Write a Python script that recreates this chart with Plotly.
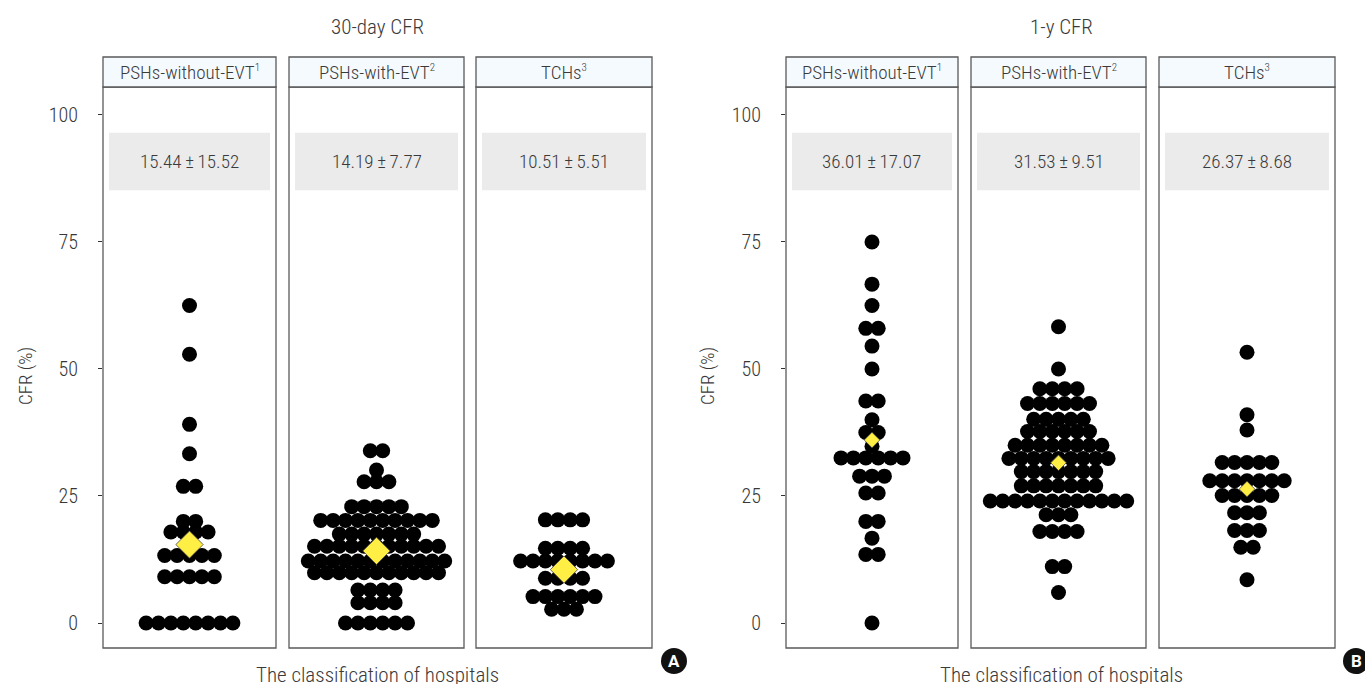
import plotly.graph_objects as go
import numpy as np

# ---------------- data ----------------
groups = ["PSHs-without-EVT<sup><span style='font-size:11px'>1</span></sup>",
          "PSHs-with-EVT<sup><span style='font-size:11px'>2</span></sup>",
          "TCHs<sup><span style='font-size:11px'>3</span></sup>"]
chart_titles = ["30-day CFR", "1-y CFR"]
panel_letters = ["A", "B"]

cfr30_without = [62.5, 52.9, 39.1, 33.3, 26.9, 26.9, 20.0, 20.0, 17.9, 17.9, 17.9, 17.9,
                 13.3, 13.3, 13.3, 13.3, 13.3, 9.1, 9.1, 9.1, 9.1, 9.1,
                 0, 0, 0, 0, 0, 0, 0, 0]
cfr30_with = [33.9, 33.9, 30.1, 27.8, 27.8, 27.8,
              22.9, 22.9, 22.9, 22.9, 22.9,
              20.2, 20.2, 20.2, 20.2, 20.2, 20.2, 20.2, 20.2, 20.2, 20.2,
              17.5, 17.5, 17.5, 17.5, 17.5, 17.5, 17.5,
              15.1, 15.1, 15.1, 15.1, 15.1, 15.1, 15.1, 15.1, 15.1, 15.1, 15.1,
              12.2, 12.2, 12.2, 12.2, 12.2, 12.2, 12.2, 12.2, 12.2, 12.2, 12.2, 12.2,
              9.9, 9.9, 9.9, 9.9, 9.9, 9.9, 9.9, 9.9, 9.9, 9.9, 9.9,
              6.5, 6.5, 6.5, 6.5, 4.0, 4.0, 4.0, 4.0,
              0, 0, 0, 0, 0, 0]
cfr30_tch = [20.3, 20.3, 20.3, 20.3, 14.7, 14.7, 14.7, 14.7,
             12.2, 12.2, 12.2, 12.2, 12.2, 12.2, 12.2, 12.2,
             8.8, 8.8, 8.8, 8.8, 5.2, 5.2, 5.2, 5.2, 5.2, 5.2, 2.7, 2.7, 2.7]

cfr1y_without = [75.0, 66.7, 62.5, 58.0, 58.0, 54.5, 50.0, 43.7, 43.7, 40.0, 37.5, 37.5, 34.8,
                 32.5, 32.5, 32.5, 32.5, 32.5, 32.5, 28.9, 28.9, 28.9, 25.6, 25.6,
                 20.0, 20.0, 16.7, 13.5, 13.5, 0]
cfr1y_with = [58.3, 50.0, 46.1, 46.1, 46.1, 46.1,
              43.2, 43.2, 43.2, 43.2, 43.2, 43.2,
              40.1, 40.1, 40.1, 40.1, 40.1,
              37.7, 37.7, 37.7, 37.7, 37.7, 37.7,
              35.0, 35.0, 35.0, 35.0, 35.0, 35.0, 35.0, 35.0,
              32.4, 32.4, 32.4, 32.4, 32.4, 32.4, 32.4, 32.4, 32.4,
              29.8, 29.8, 29.8, 29.8, 29.8, 29.8, 29.8,
              27.0, 27.0, 27.0, 27.0, 27.0, 27.0, 27.0,
              24.0, 24.0, 24.0, 24.0, 24.0, 24.0, 24.0, 24.0, 24.0, 24.0, 24.0, 24.0,
              21.3, 21.3, 21.3, 18.0, 18.0, 18.0, 18.0, 11.1, 11.1, 6.0]
cfr1y_tch = [53.3, 41.0, 38.0, 31.6, 31.6, 31.6, 31.6, 31.6,
             28.0, 28.0, 28.0, 28.0, 28.0, 28.0, 28.0,
             25.1, 25.1, 25.1, 25.1, 25.1, 21.7, 21.7, 21.7,
             18.2, 18.2, 18.2, 14.9, 14.9, 8.5]

means = [15.44, 14.19, 10.51, 36.01, 31.53, 26.37]
sds = [15.52, 7.77, 5.51, 17.07, 9.51, 8.68]
y_ticks = [0, 25, 50, 75, 100]

panel_values = [cfr30_without, cfr30_with, cfr30_tch, cfr1y_without, cfr1y_with, cfr1y_tch]

# ---------------- layout geometry (pixels) ----------------
W, H = 1365, 684
panels_px = [(103, 276), (289, 464), (476, 652), (786, 958), (971, 1146), (1159, 1335)]
strip_top, panel_top, panel_bot = 57, 87, 648
chart_centers = [377, 1061]
FONT = "Roboto Condensed, Liberation Sans Narrow, Roboto, sans-serif"
TXT = "#3a3a3a"
BORDER = "#5a5a5a"
DOT_SPACING_PX = 12.4

def fx(p):
    return p / W

def fy(p):
    return 1 - p / H

def font(size, color=TXT):
    return dict(family=FONT, size=size, color=color, weight=300)

fig = go.Figure()
shapes = []
annotations = []
layout_axes = {}

for i, vals in enumerate(panel_values):
    k = i + 1
    xa = "x" if k == 1 else f"x{k}"
    ya = "y" if k == 1 else f"y{k}"
    x0p, x1p = panels_px[i]
    wpx = x1p - x0p
    spacing = DOT_SPACING_PX * 2.0 / wpx

    # centred dot-plot offsets
    vals = np.asarray(vals, dtype=float)
    xs = np.zeros_like(vals)
    for u in np.unique(vals):
        idx = np.where(vals == u)[0]
        n = len(idx)
        xs[idx] = (np.arange(n) - (n - 1) / 2.0) * spacing

    fig.add_trace(go.Scatter(x=xs, y=vals, mode="markers", xaxis=xa, yaxis=ya,
                             marker=dict(size=15, color="black", line=dict(width=0)),
                             hoverinfo="y", showlegend=False))
    dsize = 21 if i < 3 else 12
    fig.add_trace(go.Scatter(x=[0], y=[means[i]], mode="markers", xaxis=xa, yaxis=ya,
                             marker=dict(symbol="diamond", size=dsize, color="#FFEE44",
                                         line=dict(width=0.8, color="#444444")),
                             hoverinfo="y", showlegend=False))

    layout_axes["xaxis" if k == 1 else f"xaxis{k}"] = dict(
        domain=[fx(x0p), fx(x1p)], range=[-1, 1], anchor=ya,
        showgrid=False, zeroline=False, showticklabels=False, ticks="", showline=False)
    first = i in (0, 3)
    layout_axes["yaxis" if k == 1 else f"yaxis{k}"] = dict(
        domain=[fy(panel_bot), fy(panel_top)], range=[-4.92, 105.5], anchor=xa,
        showgrid=False, zeroline=False, showline=False,
        tickvals=y_ticks if first else [], showticklabels=first,
        ticks="outside" if first else "", ticklen=4, tickwidth=1, tickcolor="#333333",
        ticklabelstandoff=16,
        tickfont=font(20, "#383838"))

    # grey summary box
    shapes.append(dict(type="rect", xref=f"{xa} domain", yref=ya,
                       x0=6 / wpx, x1=1 - 6 / wpx, y0=85.2, y1=96.5,
                       fillcolor="#EBEBEB", line=dict(width=0), layer="below"))
    annotations.append(dict(xref=f"{xa} domain", yref=ya, x=0.5, y=90.8,
                            xanchor="center", yanchor="middle",
                            text=f"{means[i]:.2f}\u2009\u00b1\u2009{sds[i]:.2f}", showarrow=False,
                            font=font(19)))
    # panel border
    shapes.append(dict(type="rect", xref="paper", yref="paper",
                       x0=fx(x0p), x1=fx(x1p), y0=fy(panel_bot), y1=fy(panel_top),
                       line=dict(color=BORDER, width=1.3), layer="above"))
    # strip
    shapes.append(dict(type="rect", xref="paper", yref="paper",
                       x0=fx(x0p), x1=fx(x1p), y0=fy(panel_top), y1=fy(strip_top),
                       fillcolor="#F5FAFF", line=dict(color=BORDER, width=1.3)))
    annotations.append(dict(xref="paper", yref="paper", x=fx((x0p + x1p) / 2),
                            y=fy((strip_top + panel_top) / 2), text=groups[i % 3],
                            showarrow=False, xanchor="center", yanchor="middle",
                            font=font(19)))

for c in range(2):
    cx = chart_centers[c]
    annotations.append(dict(xref="paper", yref="paper", x=fx(cx), y=fy(27),
                            text=chart_titles[c], showarrow=False,
                            xanchor="center", yanchor="middle", font=font(21)))
    annotations.append(dict(xref="paper", yref="paper", x=fx(cx), y=fy(675),
                            text="The classification of hospitals", showarrow=False,
                            xanchor="center", yanchor="middle", font=font(21)))
    ax_x = 25 if c == 0 else 707
    annotations.append(dict(xref="paper", yref="paper", x=fx(ax_x), y=fy(376),
                            text="CFR (%)", showarrow=False, textangle=-90,
                            xanchor="center", yanchor="middle", font=font(19)))
    bx = 674 if c == 0 else 1356
    shapes.append(dict(type="circle", xref="paper", yref="paper",
                       x0=fx(bx - 13), x1=fx(bx + 13), y0=fy(661 + 13), y1=fy(661 - 13),
                       fillcolor="#111111", line=dict(width=0)))
    annotations.append(dict(xref="paper", yref="paper", x=fx(bx), y=fy(661),
                            text=f"<b>{panel_letters[c]}</b>", showarrow=False,
                            xanchor="center", yanchor="middle",
                            font=dict(family="Roboto, Arial, sans-serif", size=17, color="white")))

fig.update_layout(width=W, height=H, margin=dict(l=0, r=0, t=0, b=0),
                  plot_bgcolor="white", paper_bgcolor="white",
                  shapes=shapes, annotations=annotations, **layout_axes)
fig.write_html("out.html", config={"displayModeBar": False},
               post_script="document.body.style.margin='0';document.body.style.overflow='hidden';")
